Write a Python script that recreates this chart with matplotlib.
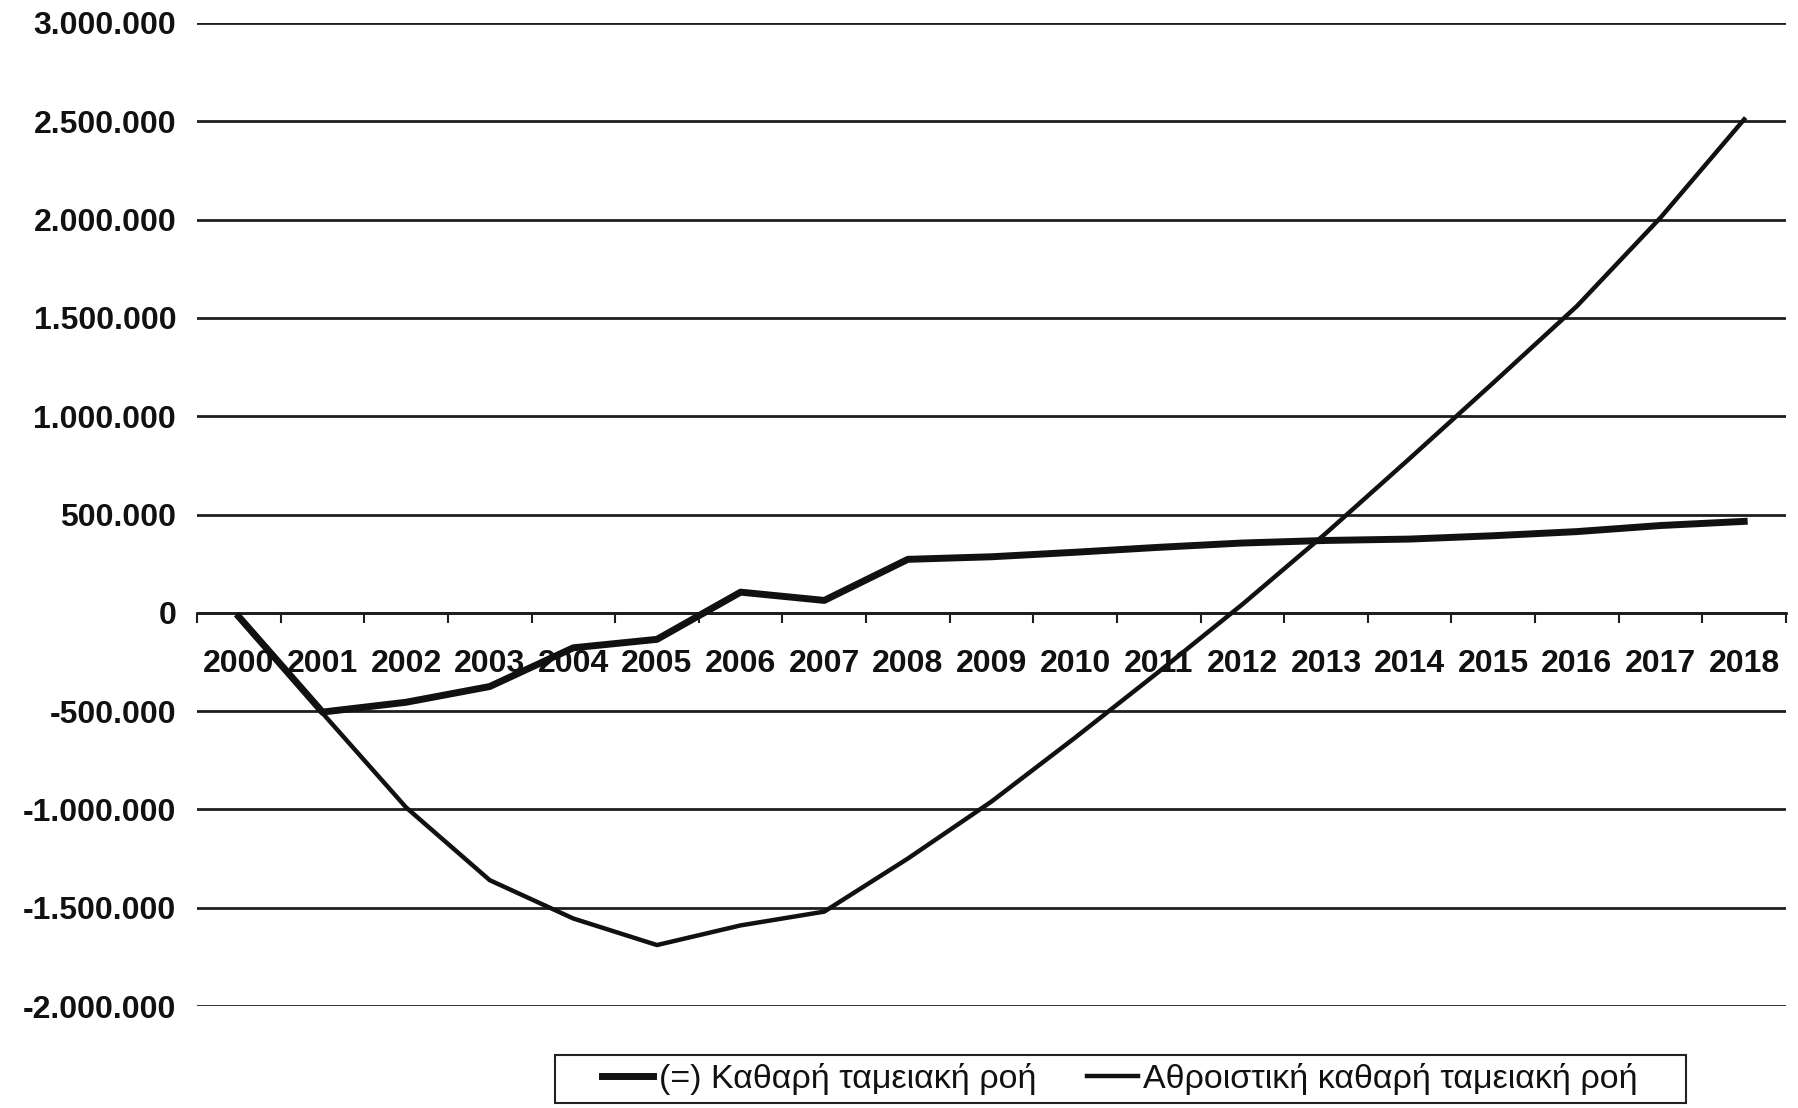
import numpy as np
import matplotlib.pyplot as plt
from matplotlib.patches import Rectangle
from matplotlib.ticker import FuncFormatter, FixedLocator

years = [str(y) for y in range(2000, 2019)]
# (=) net cash flow per year
net_flow = [-20000, -505000, -455000, -375000, -178000, -135000, 105000, 63000,
            272000, 285000, 308000, 333000, 355000, 368000, 375000, 392000,
            413000, 444000, 465000]
# cumulative net cash flow
cum_flow = [-20000, -510000, -990000, -1360000, -1555000, -1690000, -1590000,
            -1520000, -1250000, -960000, -635000, -300000, 43000, 405000,
            785000, 1170000, 1560000, 2010000, 2510000]
labels = ['(=) Καθαρή ταμειακή ροή', 'Αθροιστική καθαρή ταμειακή ροή']

ink = '#111111'
fig = plt.figure(figsize=(17.98, 11.08), dpi=100)
ax = fig.add_axes([197/1798, 102/1108, 1589/1798, 983/1108])

x = np.arange(len(years))
ax.plot(x, net_flow, color=ink, lw=5, label=labels[0], zorder=3)
ax.plot(x, cum_flow, color=ink, lw=3.2, label=labels[1], zorder=3)

ax.set_xlim(-0.5, len(years) - 0.5)
ax.set_ylim(-2000000, 3000000)
ax.set_yticks(np.arange(-2000000, 3000001, 500000))
ax.yaxis.set_major_formatter(FuncFormatter(lambda v, p: f'{int(v):,}'.replace(',', '.')))
ax.grid(axis='y', color='#1e1e1e', lw=2)
ax.grid(axis='x', visible=False)

for s in ['top', 'right', 'left']:
    ax.spines[s].set_visible(False)
ax.spines['bottom'].set_position(('data', 0))
ax.spines['bottom'].set_linewidth(2)
ax.spines['bottom'].set_color('#1e1e1e')

ax.set_xticks(x)
ax.set_xticklabels(years)
ax.xaxis.set_minor_locator(FixedLocator(np.arange(-0.5, len(years), 1.0)))
ax.tick_params(axis='x', which='major', length=0, pad=26)
ax.tick_params(axis='x', which='minor', length=7, width=1.5, color='#1e1e1e', direction='out')
ax.tick_params(axis='y', length=0, pad=15)
for t in ax.get_xticklabels() + ax.get_yticklabels():
    t.set_fontfamily(['Liberation Sans', 'DejaVu Sans'])
    t.set_fontweight('bold')
    t.set_fontsize(23)
    t.set_color(ink)

leg = fig.legend(loc='center', bbox_to_anchor=(0.623, 0.026), ncol=2,
                 prop={'family': ['Liberation Sans', 'DejaVu Sans'], 'size': 24.5},
                 frameon=False, handlelength=1.5, handletextpad=0.15,
                 columnspacing=1.5, borderpad=0.3)
for t in leg.get_texts():
    t.set_color(ink)

# legend box, wider than the default frame
fig.patches.append(Rectangle((555/1798, 5/1108), 1131/1798, 48/1108,
                             transform=fig.transFigure, fill=False,
                             edgecolor='#222222', lw=1.5))

fig.savefig('out.png', dpi=100, facecolor='white')
